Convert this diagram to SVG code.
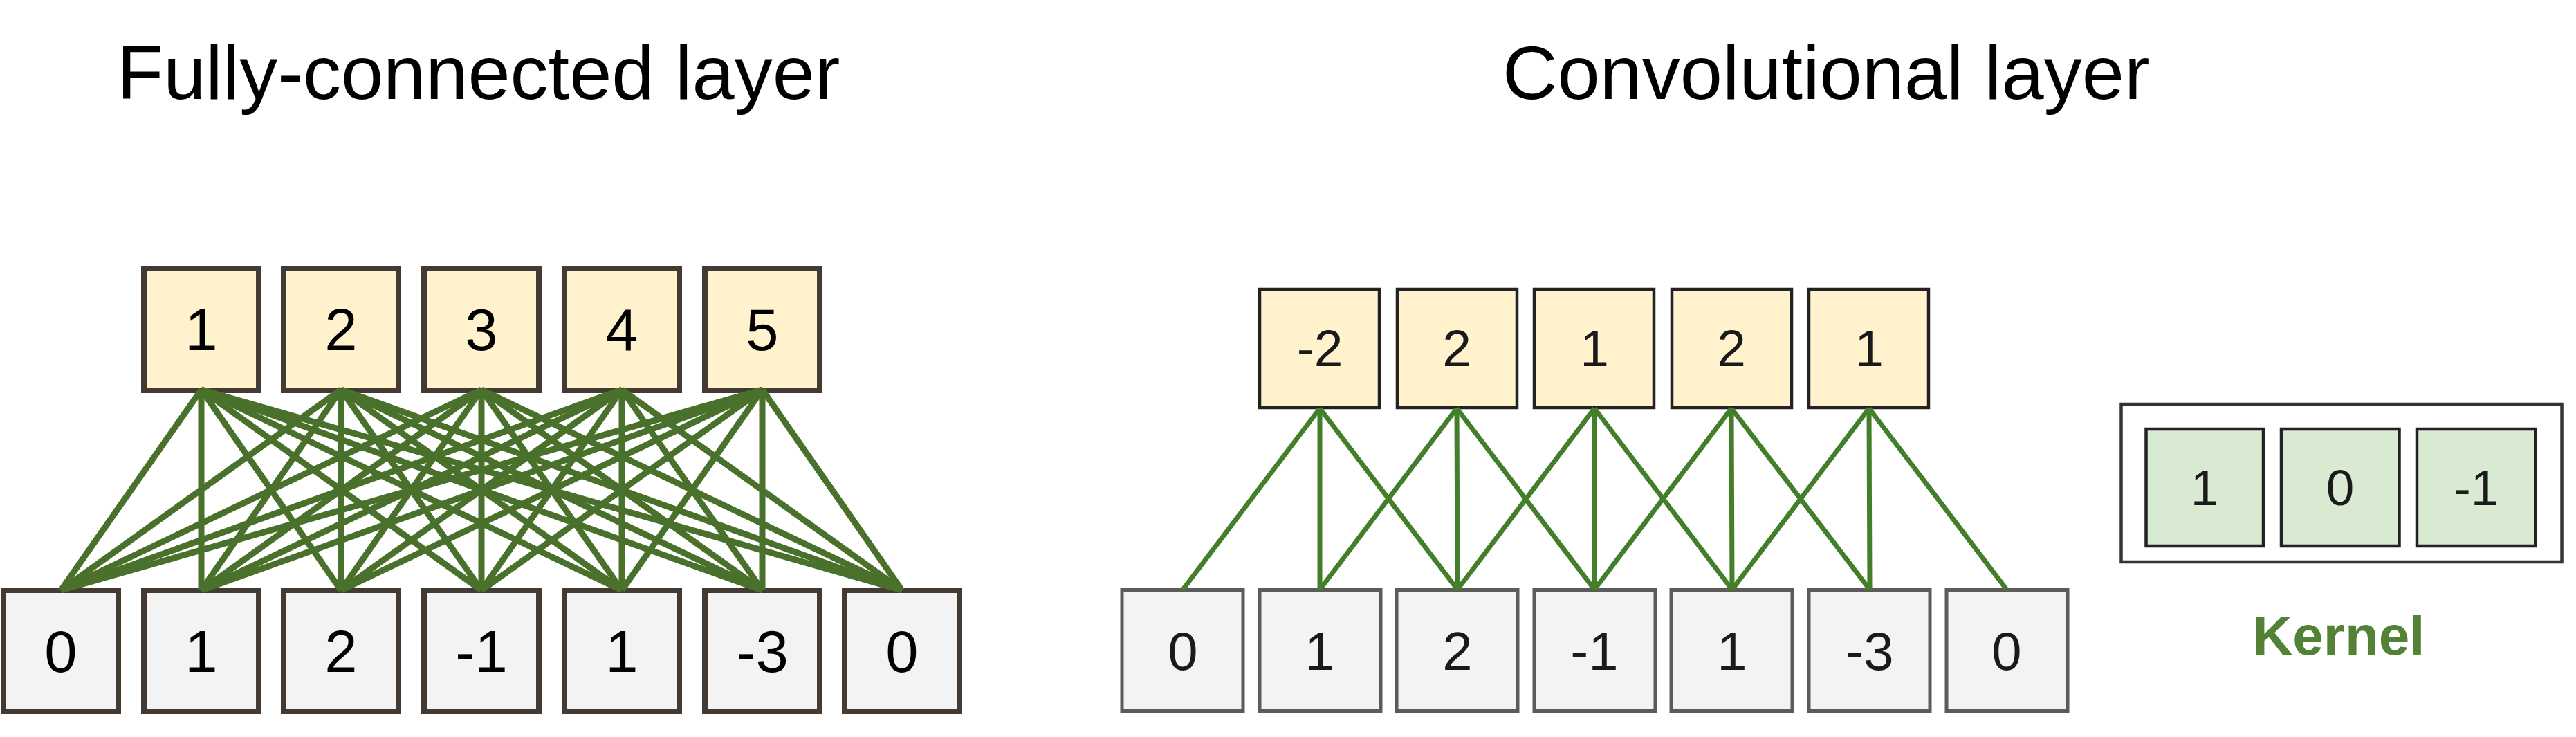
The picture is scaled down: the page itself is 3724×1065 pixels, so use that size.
<svg xmlns="http://www.w3.org/2000/svg" width="3724" height="1065" viewBox="0 0 3724 1065">
<style>
.title{font-family:"Liberation Sans",Arial,sans-serif;font-size:110px;fill:#000}
.fcT{fill:#fff2cc;stroke:#433a34;stroke-width:8}
.fcB{fill:#f3f3f3;stroke:#433a34;stroke-width:8}
.fcTx{font-family:"Liberation Sans",Arial,sans-serif;font-size:85px;fill:#000;text-anchor:middle}
.cvT{fill:#fff2cc;stroke:#222;stroke-width:4.5}
.cvB{fill:#f3f3f3;stroke:#5b5b5b;stroke-width:5}
.cvTx{font-family:"Liberation Sans",Arial,sans-serif;fill:#1a1a1a;text-anchor:middle}
.kOut{fill:#fff;stroke:#333;stroke-width:4.5}
.kIn{fill:#d9ead3;stroke:#222;stroke-width:4.5}
.fcL line{stroke:#4a712c;stroke-width:9}
.cvL line{stroke:#437f2a;stroke-width:7}
</style>
<rect width="3724" height="1065" fill="#fff"/>
<g id="titles">
<text class="title" x="169" y="143">Fully-connected layer</text>
<text class="title" x="2172" y="143">Convolutional layer</text>
</g>
<!-- Fully-connected nodes -->
<g id="fc-out-1"><rect class="fcT" x="208" y="388" width="166" height="176"/><text class="fcTx" x="291" y="506">1</text></g>
<g id="fc-out-2"><rect class="fcT" x="410" y="388" width="166" height="176"/><text class="fcTx" x="493" y="506">2</text></g>
<g id="fc-out-3"><rect class="fcT" x="613" y="388" width="166" height="176"/><text class="fcTx" x="696" y="506">3</text></g>
<g id="fc-out-4"><rect class="fcT" x="816" y="388" width="166" height="176"/><text class="fcTx" x="899" y="506">4</text></g>
<g id="fc-out-5"><rect class="fcT" x="1019" y="388" width="166" height="176"/><text class="fcTx" x="1102" y="506">5</text></g>
<g id="fc-in-0"><rect class="fcB" x="5" y="853" width="166" height="175"/><text class="fcTx" x="88" y="971">0</text></g>
<g id="fc-in-1"><rect class="fcB" x="208" y="853" width="166" height="175"/><text class="fcTx" x="291" y="971">1</text></g>
<g id="fc-in-2"><rect class="fcB" x="410" y="853" width="166" height="175"/><text class="fcTx" x="493" y="971">2</text></g>
<g id="fc-in-3"><rect class="fcB" x="613" y="853" width="166" height="175"/><text class="fcTx" x="696" y="971">-1</text></g>
<g id="fc-in-4"><rect class="fcB" x="816" y="853" width="166" height="175"/><text class="fcTx" x="899" y="971">1</text></g>
<g id="fc-in-5"><rect class="fcB" x="1019" y="853" width="166" height="175"/><text class="fcTx" x="1102" y="971">-3</text></g>
<g id="fc-in-6"><rect class="fcB" x="1221" y="853" width="166" height="175"/><text class="fcTx" x="1304" y="971">0</text></g>
<!-- Convolutional nodes -->
<g id="cv-out-1"><rect class="cvT" x="1821" y="418" width="173" height="171"/><text class="cvTx" font-size="75" x="1908" y="529">-2</text></g>
<g id="cv-out-2"><rect class="cvT" x="2020" y="418" width="173" height="171"/><text class="cvTx" font-size="75" x="2106" y="529">2</text></g>
<g id="cv-out-3"><rect class="cvT" x="2218" y="418" width="173" height="171"/><text class="cvTx" font-size="75" x="2305" y="529">1</text></g>
<g id="cv-out-4"><rect class="cvT" x="2417" y="418" width="173" height="171"/><text class="cvTx" font-size="75" x="2503" y="529">2</text></g>
<g id="cv-out-5"><rect class="cvT" x="2615" y="418" width="173" height="171"/><text class="cvTx" font-size="75" x="2702" y="529">1</text></g>
<g id="cv-in-0"><rect class="cvB" x="1622" y="852.5" width="175" height="175"/><text class="cvTx" font-size="78" x="1710" y="968">0</text></g>
<g id="cv-in-1"><rect class="cvB" x="1821" y="852.5" width="175" height="175"/><text class="cvTx" font-size="78" x="1908" y="968">1</text></g>
<g id="cv-in-2"><rect class="cvB" x="2019" y="852.5" width="175" height="175"/><text class="cvTx" font-size="78" x="2107" y="968">2</text></g>
<g id="cv-in-3"><rect class="cvB" x="2218" y="852.5" width="175" height="175"/><text class="cvTx" font-size="78" x="2305" y="968">-1</text></g>
<g id="cv-in-4"><rect class="cvB" x="2416" y="852.5" width="175" height="175"/><text class="cvTx" font-size="78" x="2504" y="968">1</text></g>
<g id="cv-in-5"><rect class="cvB" x="2615" y="852.5" width="175" height="175"/><text class="cvTx" font-size="78" x="2703" y="968">-3</text></g>
<g id="cv-in-6"><rect class="cvB" x="2814" y="852.5" width="175" height="175"/><text class="cvTx" font-size="78" x="2901" y="968">0</text></g>
<!-- Kernel -->
<g id="kernel">
<rect class="kOut" x="3066.5" y="584" width="637" height="228"/>
<g id="kernel-1"><rect class="kIn" x="3102.5" y="620" width="169.5" height="169"/><text class="cvTx" font-size="73" x="3187" y="730">1</text></g>
<g id="kernel-2"><rect class="kIn" x="3298" y="620" width="170.5" height="169"/><text class="cvTx" font-size="73" x="3383" y="730">0</text></g>
<g id="kernel-3"><rect class="kIn" x="3494" y="620" width="171.5" height="169"/><text class="cvTx" font-size="73" x="3580" y="730">-1</text></g>
<text x="3381" y="946" font-family="Liberation Sans, Arial, sans-serif" font-size="80" font-weight="bold" fill="#538135" text-anchor="middle">Kernel</text>
</g>
<!-- Connectors -->
<g id="connectors">
<g class="fcL">
<line x1="291" y1="563" x2="88" y2="853"/><line x1="291" y1="563" x2="291" y2="853"/><line x1="291" y1="563" x2="493" y2="853"/><line x1="291" y1="563" x2="696" y2="853"/><line x1="291" y1="563" x2="899" y2="853"/><line x1="291" y1="563" x2="1102" y2="853"/><line x1="291" y1="563" x2="1304" y2="853"/>
<line x1="493" y1="563" x2="88" y2="853"/><line x1="493" y1="563" x2="291" y2="853"/><line x1="493" y1="563" x2="493" y2="853"/><line x1="493" y1="563" x2="696" y2="853"/><line x1="493" y1="563" x2="899" y2="853"/><line x1="493" y1="563" x2="1102" y2="853"/><line x1="493" y1="563" x2="1304" y2="853"/>
<line x1="696" y1="563" x2="88" y2="853"/><line x1="696" y1="563" x2="291" y2="853"/><line x1="696" y1="563" x2="493" y2="853"/><line x1="696" y1="563" x2="696" y2="853"/><line x1="696" y1="563" x2="899" y2="853"/><line x1="696" y1="563" x2="1102" y2="853"/><line x1="696" y1="563" x2="1304" y2="853"/>
<line x1="899" y1="563" x2="88" y2="853"/><line x1="899" y1="563" x2="291" y2="853"/><line x1="899" y1="563" x2="493" y2="853"/><line x1="899" y1="563" x2="696" y2="853"/><line x1="899" y1="563" x2="899" y2="853"/><line x1="899" y1="563" x2="1102" y2="853"/><line x1="899" y1="563" x2="1304" y2="853"/>
<line x1="1102" y1="563" x2="88" y2="853"/><line x1="1102" y1="563" x2="291" y2="853"/><line x1="1102" y1="563" x2="493" y2="853"/><line x1="1102" y1="563" x2="696" y2="853"/><line x1="1102" y1="563" x2="899" y2="853"/><line x1="1102" y1="563" x2="1102" y2="853"/><line x1="1102" y1="563" x2="1304" y2="853"/>
</g>
<g class="cvL">
<line x1="1908" y1="590" x2="1710" y2="852"/><line x1="1908" y1="590" x2="1908" y2="852"/><line x1="1908" y1="590" x2="2107" y2="852"/>
<line x1="2106" y1="590" x2="1908" y2="852"/><line x1="2106" y1="590" x2="2107" y2="852"/><line x1="2106" y1="590" x2="2305" y2="852"/>
<line x1="2305" y1="590" x2="2107" y2="852"/><line x1="2305" y1="590" x2="2305" y2="852"/><line x1="2305" y1="590" x2="2504" y2="852"/>
<line x1="2503" y1="590" x2="2305" y2="852"/><line x1="2503" y1="590" x2="2504" y2="852"/><line x1="2503" y1="590" x2="2703" y2="852"/>
<line x1="2702" y1="590" x2="2504" y2="852"/><line x1="2702" y1="590" x2="2703" y2="852"/><line x1="2702" y1="590" x2="2901" y2="852"/>
</g>
</g>
</svg>
